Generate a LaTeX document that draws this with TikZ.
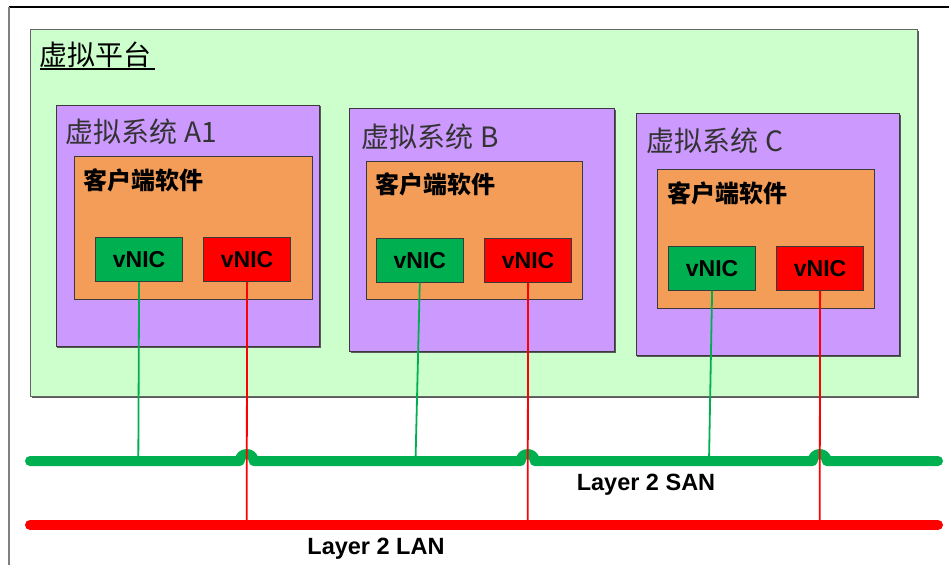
\documentclass[tikz,border=0pt]{standalone}
\usepackage{fontspec}
\setmainfont{Liberation Sans}
\newfontfamily\cjk{Noto Sans CJK SC}
\usetikzlibrary{positioning}

\definecolor{platfill}{HTML}{CCFFCC}
\definecolor{sysfill}{HTML}{CC99FF}
\definecolor{appfill}{HTML}{F39D59}
\definecolor{sangreen}{HTML}{00B050}
\definecolor{lanred}{HTML}{FF0000}
\definecolor{edge}{HTML}{3A3A3A}
\definecolor{titlegray}{HTML}{333333}

\tikzset{
  panel/.style={draw=edge, line width=0.9pt, anchor=north west, inner sep=0pt},
  platform/.style={panel, fill=platfill, draw=gray!80!black},
  sysbox/.style={panel, fill=sysfill},
  appbox/.style={panel, fill=appfill},
  nicbox/.style={panel, minimum width=86.7pt, minimum height=43.7pt,
    font=\fontsize{23}{26}\selectfont\bfseries, text=black},
  nicgreen/.style={nicbox, fill=sangreen},
  nicred/.style={nicbox, fill=lanred},
  systitle/.style={anchor=base west, inner sep=0pt, text=titlegray,
    font=\cjk\fontsize{28}{30}\selectfont},
  applabel/.style={anchor=base west, inner sep=0pt, text=black,
    font=\cjk\fontsize{24}{26}\selectfont\bfseries},
  buslabel/.style={anchor=base, inner sep=0pt,
    font=\fontsize{23.5}{26}\selectfont\bfseries},
  shadowed/.style={fill=gray!70!black, draw=none, anchor=north west, inner sep=0pt},
  sanlink/.style={draw=sangreen, line width=1.8pt},
  lanlink/.style={draw=lanred, line width=1.8pt},
  sanbus/.style={draw=sangreen, line width=10pt, line cap=round, line join=round},
  lanbus/.style={draw=lanred, line width=10pt, line cap=round},
}

\begin{document}
\begin{tikzpicture}[x=1pt, y=-1pt]
\useasboundingbox (0,0) rectangle (949,565);

% outer frame
\draw[line width=1.6pt, black] (9,7) -- (949,7);
\draw[line width=1.6pt, gray] (9,7) -- (9,565);

% platform
\node[shadowed, minimum width=887pt, minimum height=367pt] at (31.5,30.5) {};
\node[platform, minimum width=886.5pt, minimum height=366.5pt] (plat) at (30,29) {};
\node[anchor=base west, inner sep=0pt, text=black, font=\cjk\fontsize{28}{30}\selectfont] (plattitle) at (39,65.5) {虚拟平台};
\draw[line width=1.1pt, black] (40,69) -- (155,69);

% system A1
\node[shadowed, minimum width=264pt, minimum height=241.5pt] at (56.5,106) {};
\node[sysbox, minimum width=263.5pt, minimum height=241pt] (sysA) at (55.5,104.5) {};
\node[systitle] (sysAt) at (65.7,142.6) {虚拟系统 A1};
\node[appbox, minimum width=238.3pt, minimum height=142.7pt] (appA) at (73.7,156.3) {};
\node[applabel] (appAt) at (83,189.7) {客户端软件};
\node[nicgreen] (nicAg) at (95.3,237.3) {vNIC};
\node[nicred] (nicAr) at (203.3,237.3) {vNIC};

% system B
\node[shadowed, minimum width=265pt, minimum height=243pt] at (350.5,109.5) {};
\node[sysbox, minimum width=265pt, minimum height=242.7pt] (sysB) at (349.3,108.3) {};
\node[systitle] (sysBt) at (361.7,147.3) {虚拟系统 B};
\node[appbox, minimum width=216.3pt, minimum height=138.7pt] (appB) at (365.7,160.5) {};
\node[applabel] (appBt) at (375.7,193.8) {客户端软件};
\node[nicgreen] (nicBg) at (376,238) {vNIC};
\node[nicred] (nicBr) at (484.3,238) {vNIC};

% system C
\node[shadowed, minimum width=264pt, minimum height=242pt] at (637,114.5) {};
\node[sysbox, minimum width=263.6pt, minimum height=241.7pt] (sysC) at (635.7,113.3) {};
\node[systitle] (sysCt) at (646.7,151.7) {虚拟系统 C};
\node[appbox, minimum width=216.7pt, minimum height=138.7pt] (appC) at (657.3,169.3) {};
\node[applabel] (appCt) at (667.7,202.3) {客户端软件};
\node[nicgreen] (nicCg) at (668.3,246) {vNIC};
\node[nicred] (nicCr) at (776.3,246) {vNIC};

% bus end points and taps
\coordinate (sanL) at (30,461);
\coordinate (sanR) at (938,461);
\coordinate (lanL) at (30,525);
\coordinate (lanR) at (938,525);
\coordinate (sanA) at (138.3,461);
\coordinate (sanB) at (415.5,461);
\coordinate (sanC) at (709,461);
\coordinate (lanA) at (246.7,525);
\coordinate (lanB) at (527.7,525);
\coordinate (lanC) at (819.7,525);

% SAN bus, hopping over the LAN drops
\draw[sanbus] (sanL)
  -- (239.7,461) .. controls (239.7,451.7) and (253.7,451.7) .. (253.7,461)
  -- (520.7,461) .. controls (520.7,451.7) and (534.7,451.7) .. (534.7,461)
  -- (812.7,461) .. controls (812.7,451.7) and (826.7,451.7) .. (826.7,461)
  -- (sanR);

% LAN bus
\draw[lanbus] (lanL) -- (lanR);

% NIC drops
\draw[sanlink] (nicAg.south) -- (sanA);
\draw[sanlink] (nicBg.south) -- (sanB);
\draw[sanlink] (nicCg.south) -- (sanC);
\draw[lanlink] (nicAr.south) -- (lanA);
\draw[lanlink] (nicBr.south) -- (lanB);
\draw[lanlink] (nicCr.south) -- (lanC);

% bus labels
\node[buslabel] (sanlabel) at (646,490.7) {Layer 2 SAN};
\node[buslabel] (lanlabel) at (376,554) {Layer 2 LAN};
\end{tikzpicture}
\end{document}
